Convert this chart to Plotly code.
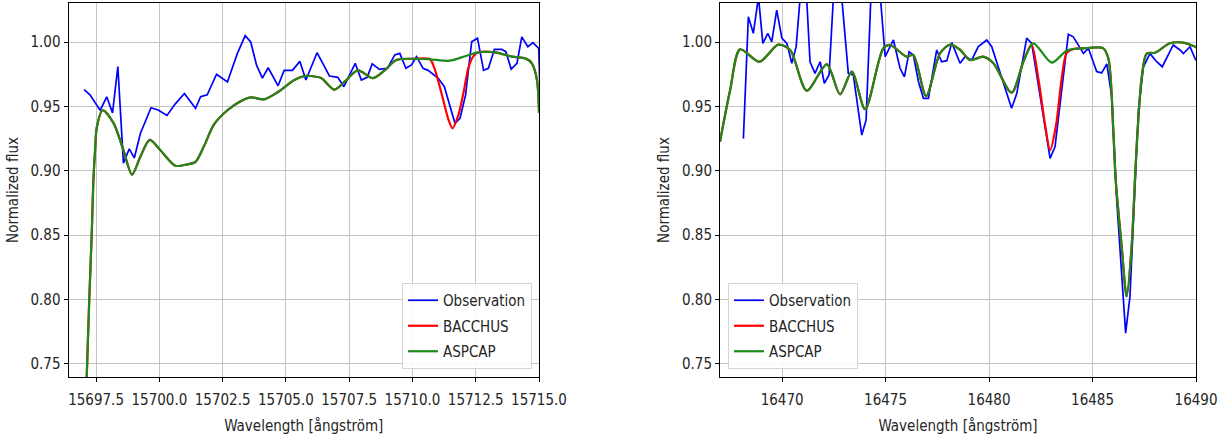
import plotly.graph_objects as go

# ---------------- Left panel data (15697-15715 Å) ----------------
obs1_wl = [15697.03, 15697.26, 15697.66, 15697.92, 15698.15, 15698.36, 15698.58, 15698.81,
           15699.01, 15699.25, 15699.67, 15699.97, 15700.30, 15700.63, 15700.99, 15701.43,
           15701.63, 15701.89, 15702.26, 15702.69, 15703.08, 15703.39, 15703.61, 15703.84,
           15704.07, 15704.30, 15704.69, 15704.93, 15705.26, 15705.55, 15705.79, 15706.23,
           15706.72, 15707.05, 15707.29, 15707.74, 15707.98, 15708.21, 15708.41, 15708.70,
           15709.01, 15709.30, 15709.50, 15709.74, 15709.96, 15710.16, 15710.42, 15710.62,
           15711.02, 15711.26, 15711.68, 15711.88, 15712.10, 15712.34, 15712.57, 15712.81,
           15713.00, 15713.24, 15713.53, 15713.69, 15713.90, 15714.13, 15714.32, 15714.56,
           15714.76, 15714.99, 15715.05]
obs1_flux = [0.963, 0.959, 0.947, 0.9575, 0.945, 0.981, 0.906, 0.917,
             0.910, 0.929, 0.949, 0.947, 0.943, 0.952, 0.960, 0.9486,
             0.9576, 0.959, 0.975, 0.969, 0.991, 1.005, 1.000, 0.982,
             0.972, 0.980, 0.966, 0.978, 0.978, 0.985, 0.9705, 0.9917,
             0.9736, 0.9726, 0.9653, 0.9835, 0.9705, 0.9726, 0.983, 0.9788,
             0.9796, 0.990, 0.9912, 0.9796, 0.9822, 0.9886, 0.9796, 0.978,
             0.9718, 0.9653, 0.9369, 0.9408, 0.9589, 1.0002, 1.003, 0.978,
             0.9796, 0.9943, 0.9943, 0.9925, 0.979, 0.9835, 1.004, 0.9964,
             0.9995, 0.995, 0.955]

aspcap1_wl = [15697.05, 15697.13, 15697.23, 15697.33, 15697.39, 15697.46, 15697.53, 15697.76,
              15698.19, 15698.58, 15698.92, 15699.25, 15699.62, 15700.04, 15700.63, 15701.10,
              15701.43, 15701.76, 15702.16, 15702.69, 15703.21, 15703.61, 15704.14, 15704.67,
              15705.33, 15705.73, 15705.99, 15706.39, 15706.92, 15707.31, 15707.84, 15708.44,
              15708.90, 15709.36, 15710.09, 15710.69, 15711.48, 15712.08, 15712.61, 15713.27,
              15713.93, 15714.46, 15714.72, 15714.92, 15715.00]
aspcap1_flux = [0.700, 0.740, 0.800, 0.852, 0.891, 0.916, 0.934, 0.947,
                0.937, 0.916, 0.897, 0.911, 0.924, 0.916, 0.904, 0.905,
                0.907, 0.919, 0.936, 0.947, 0.954, 0.957, 0.9555, 0.961,
                0.9705, 0.9736, 0.9736, 0.972, 0.963, 0.969, 0.978, 0.972,
                0.978, 0.986, 0.987, 0.9866, 0.9855, 0.989, 0.992, 0.992,
                0.9886, 0.9873, 0.9835, 0.9705, 0.945]

# BACCHUS differs from ASPCAP only inside this line
bacchus1_dip_wl = [15710.88, 15711.15, 15711.42, 15711.58, 15711.81, 15712.01, 15712.21, 15712.41]
bacchus1_dip_flux = [0.979, 0.960, 0.940, 0.933, 0.943, 0.960, 0.980, 0.989]

# ---------------- Right panel data (16467-16490 Å) ----------------
obs2_wl = [16468.13, 16468.37, 16468.61, 16468.86, 16469.07, 16469.31, 16469.50, 16469.74,
           16469.99, 16470.23, 16470.47, 16470.68, 16470.95, 16471.15, 16471.35, 16471.59,
           16471.84, 16472.04, 16472.27, 16472.55, 16472.80, 16473.20, 16473.44, 16473.85,
           16474.06, 16474.35, 16474.65, 16474.98, 16475.38, 16475.70, 16475.91, 16476.14,
           16476.34, 16476.59, 16476.83, 16477.07, 16477.47, 16477.71, 16477.96, 16478.20,
           16478.60, 16478.84, 16479.16, 16479.48, 16479.89, 16480.13, 16481.09, 16481.34,
           16481.82, 16482.06, 16482.95, 16483.19, 16483.83, 16484.07, 16484.56, 16484.80,
           16485.20, 16485.44, 16485.69, 16485.93, 16486.17, 16486.60, 16486.81, 16487.05,
           16487.22, 16487.46, 16487.78, 16488.10, 16488.37, 16488.90, 16489.23, 16489.39,
           16489.71, 16489.95, 16490.05]
obs2_flux = [0.925, 1.0196, 1.0068, 1.035, 0.999, 1.0068, 1.0002, 1.0248,
             1.003, 0.999, 0.9835, 0.9964, 1.050, 1.045, 0.9847, 0.9757,
             0.9847, 0.968, 0.9744, 1.055, 1.050, 0.9757, 0.9744, 0.9278,
             0.9395, 1.060, 1.055, 0.9886, 1.0016, 0.9796, 0.973, 0.9925,
             0.990, 0.9692, 0.9563, 0.9563, 0.9938, 0.9847, 0.9855, 0.9995,
             0.9835, 0.9886, 0.986, 0.9964, 1.0016, 0.9964, 0.9486, 0.960,
             1.003, 0.999, 0.9097, 0.9188, 1.006, 1.004, 0.9912, 0.9951,
             0.977, 0.976, 0.983, 0.9576, 0.877, 0.774, 0.8024, 0.893,
             0.947, 0.9808, 0.991, 0.9847, 0.9808, 0.9977, 0.9938, 0.991,
             0.9964, 0.9873, 0.985]

aspcap2_wl = [16467.00, 16467.49, 16467.97, 16468.90, 16469.82, 16470.39, 16471.19, 16472.16,
              16472.80, 16473.37, 16474.01, 16474.89, 16475.22, 16476.02, 16476.34, 16476.96,
              16477.63, 16478.12, 16478.60, 16479.08, 16479.72, 16480.21, 16481.09, 16481.66,
              16482.14, 16483.03, 16483.75, 16484.56, 16485.52, 16485.77, 16486.01, 16486.12,
              16486.41, 16486.65, 16486.89, 16487.05, 16487.17, 16487.38, 16487.62, 16488.02,
              16488.74, 16489.39, 16489.95, 16490.00]
aspcap2_flux = [0.9226, 0.9627, 0.9943, 0.9847, 0.998, 0.9938, 0.9622, 0.9827,
                0.9594, 0.977, 0.9478, 0.9951, 0.9977, 0.9886, 0.990, 0.958,
                0.9912, 0.998, 0.994, 0.986, 0.9886, 0.9835, 0.9607, 0.9847,
                0.999, 0.984, 0.9933, 0.9951, 0.9951, 0.987, 0.929, 0.893,
                0.841, 0.8024, 0.841, 0.893, 0.929, 0.973, 0.991, 0.9917,
                0.999, 0.9995, 0.9964, 0.996]

bacchus2_dip_wl = [16482.05, 16482.38, 16482.71, 16482.95, 16483.24, 16483.51, 16483.75, 16484.05]
bacchus2_dip_flux = [0.998, 0.972, 0.9356, 0.916, 0.9356, 0.972, 0.9915, 0.9945]

# Tick labels
x1_ticks = [15697.5, 15700, 15702.5, 15705, 15707.5, 15710, 15712.5, 15715]
x1_labels = ["15697.5", "15700.0", "15702.5", "15705.0", "15707.5", "15710.0", "15712.5", "15715.0"]
x2_ticks = [16470, 16475, 16480, 16485, 16490]
x2_labels = ["16470", "16475", "16480", "16485", "16490"]
y_ticks = [0.75, 0.80, 0.85, 0.90, 0.95, 1.00]
y_labels = ["0.75", "0.80", "0.85", "0.90", "0.95", "1.00"]


def merge(base_wl, base_fl, dip_wl, dip_fl):
    lo, hi = dip_wl[0], dip_wl[-1]
    pts = [(w, f) for w, f in zip(base_wl, base_fl) if w < lo - 0.15 or w > hi + 0.15]
    pts += list(zip(dip_wl, dip_fl))
    pts.sort()
    return [p[0] for p in pts], [p[1] for p in pts]


bacchus1_wl, bacchus1_flux = merge(aspcap1_wl, aspcap1_flux, bacchus1_dip_wl, bacchus1_dip_flux)
bacchus2_wl, bacchus2_flux = merge(aspcap2_wl, aspcap2_flux, bacchus2_dip_wl, bacchus2_dip_flux)

BLUE, RED, GREEN = "#0000ff", "#ff0000", "#1a8a1a"
FONT = "DejaVu Sans Condensed, DejaVu Sans, sans-serif"
TXT = "#262626"

fig = go.Figure()
panels = [
    ("x", "y", "legend", obs1_wl, obs1_flux, bacchus1_wl, bacchus1_flux, aspcap1_wl, aspcap1_flux),
    ("x2", "y2", "legend2", obs2_wl, obs2_flux, bacchus2_wl, bacchus2_flux, aspcap2_wl, aspcap2_flux),
]
for i, (xa, ya, lg, ow, of, bw, bf, aw, af) in enumerate(panels):
    fig.add_trace(go.Scatter(x=ow, y=of, mode="lines", name="Observation", xaxis=xa, yaxis=ya,
                             legend=lg, legendgroup=f"o{i}",
                             line=dict(color=BLUE, width=1.7)))
    fig.add_trace(go.Scatter(x=bw, y=bf, mode="lines", name="BACCHUS", xaxis=xa, yaxis=ya,
                             legend=lg, legendgroup=f"b{i}",
                             line=dict(color=RED, width=2.2, shape="spline", smoothing=0.8)))
    fig.add_trace(go.Scatter(x=aw, y=af, mode="lines", name="ASPCAP", xaxis=xa, yaxis=ya,
                             legend=lg, legendgroup=f"a{i}",
                             line=dict(color=GREEN, width=2.2, shape="spline", smoothing=0.8)))

W, H = 1232, 443
title_font = dict(family=FONT, size=15, color=TXT)


def axis(**kw):
    d = dict(showline=True, linecolor="#000", linewidth=1, mirror=True,
             showgrid=True, gridcolor="#c4c4c4", gridwidth=1, zeroline=False,
             ticks="outside", ticklen=4, tickcolor="#000",
             tickfont=dict(family=FONT, size=15, color=TXT))
    d.update(kw)
    return d


ydom = [1 - 377 / H, 1 - 3 / H]
legend_common = dict(bgcolor="rgba(255,255,255,0.85)", bordercolor="#d5d5d5", borderwidth=1,
                     font=dict(family=FONT, size=15, color=TXT), tracegroupgap=3,
                     yanchor="bottom", y=1 - 369 / H)

fig.update_layout(
    width=W, height=H, autosize=False,
    margin=dict(l=0, r=0, t=0, b=0, autoexpand=False),
    paper_bgcolor="white", plot_bgcolor="white",
    font=dict(family=FONT, size=15, color=TXT),
    xaxis=axis(domain=[68.5 / W, 539 / W], range=[15696.41, 15715.0],
               tickvals=x1_ticks, ticktext=x1_labels, ticklabelstandoff=5,
               title=dict(text="Wavelength [ångström]", standoff=12, font=title_font),
               anchor="y"),
    yaxis=axis(domain=ydom, range=[0.7399, 1.0303], tickvals=y_ticks, ticktext=y_labels,
               title=dict(text="Normalized flux", standoff=8, font=title_font),
               anchor="x"),
    xaxis2=axis(domain=[720 / W, 1196 / W], range=[16467.0, 16490.0],
                tickvals=x2_ticks, ticktext=x2_labels, ticklabelstandoff=5,
                title=dict(text="Wavelength [ångström]", standoff=12, font=title_font),
                anchor="y2"),
    yaxis2=axis(domain=ydom, range=[0.7399, 1.0303], tickvals=y_ticks, ticktext=y_labels,
                title=dict(text="Normalized flux", standoff=8, font=title_font),
                anchor="x2"),
    legend=dict(legend_common, x=532 / W, xanchor="right"),
    legend2=dict(legend_common, x=728 / W, xanchor="left"),
)

fig.write_html(
    "out.html",
    config={"responsive": False},
    post_script="document.documentElement.style.overflow='hidden';"
                "document.body.style.margin='0';document.body.style.overflow='hidden';",
)
